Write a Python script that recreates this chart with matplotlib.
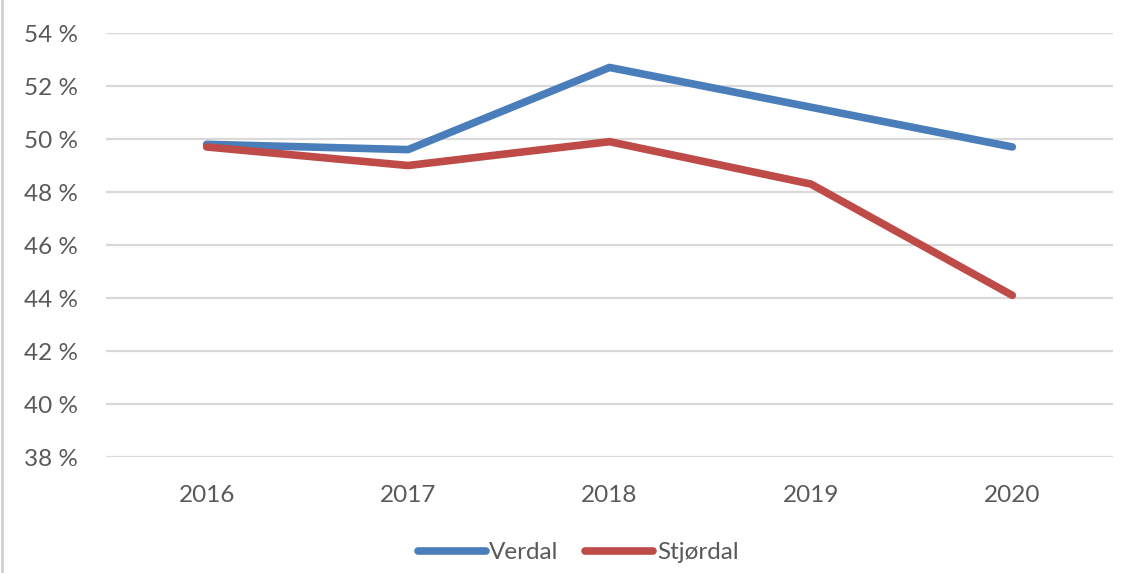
import matplotlib.pyplot as plt
from matplotlib.lines import Line2D
from matplotlib.ticker import FuncFormatter

years = ["2016", "2017", "2018", "2019", "2020"]
verdal = [49.8, 49.6, 52.7, 51.2, 49.7]
stjordal = [49.7, 49.0, 49.9, 48.3, 44.1]
yticks = [38, 40, 42, 44, 46, 48, 50, 52, 54]

plt.rcParams['font.family'] = ['Lato', 'DejaVu Sans']

fig = plt.figure(figsize=(11.27, 5.73), dpi=100)
ax = fig.add_axes([0.094, 0.2024, 0.8936, 0.74])

x = list(range(len(years)))
ax.plot(x, verdal, color='#4A7EBB', lw=5.5, solid_capstyle='round', label='Verdal')
ax.plot(x, stjordal, color='#BE4B48', lw=5.5, solid_capstyle='round', label='Stjørdal')

ax.set_xlim(-0.5, len(years) - 0.5)
ax.set_ylim(38, 54)
ax.set_yticks(yticks)
ax.yaxis.set_major_formatter(FuncFormatter(lambda v, p: f"{v:.0f} %"))
ax.set_xticks(x)
ax.set_xticklabels(years)
ax.grid(axis='y', color='#D9D9D9', lw=1.6)
ax.set_axisbelow(True)
for s in ax.spines.values():
    s.set_visible(False)
ax.tick_params(length=0, labelsize=17.5, labelcolor='#595959')
ax.tick_params(axis='y', pad=20)
ax.tick_params(axis='x', pad=20)

fig.legend(loc='center', bbox_to_anchor=(0.513, 0.035), ncol=2, frameon=False,
           fontsize=17.5, labelcolor='#595959', handlelength=2.8, handletextpad=0.15,
           columnspacing=1.1)

fig.add_artist(Line2D([0.002, 0.002], [0, 1], color='#D0D0D0', lw=2))

fig.savefig("out.png", dpi=100)
